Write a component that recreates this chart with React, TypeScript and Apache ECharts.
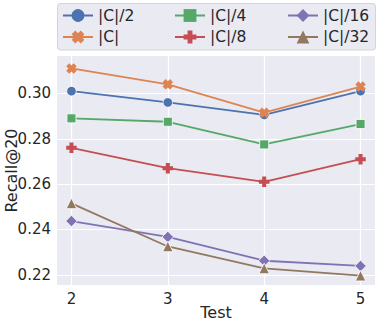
import React, { useEffect, useRef } from 'react';
import * as echarts from 'echarts';

const tests = [2, 3, 4, 5];
const seriesNames = ['|C|/2', '|C|', '|C|/4', '|C|/8', '|C|/16', '|C|/32'];
const valuesC2 = [0.301, 0.296, 0.2905, 0.301];
const valuesC = [0.311, 0.304, 0.2915, 0.303];
const valuesC4 = [0.289, 0.2875, 0.2775, 0.2865];
const valuesC8 = [0.276, 0.267, 0.261, 0.271];
const valuesC16 = [0.2437, 0.2367, 0.2262, 0.2239];
const valuesC32 = [0.2515, 0.2325, 0.2228, 0.2196];
const allValues = [valuesC2, valuesC, valuesC4, valuesC8, valuesC16, valuesC32];
const yTickStep = 0.02;
const xTickStep = 1;

const colors = ['#4C72B0', '#DD8452', '#55A868', '#C44E52', '#8172B3', '#937860'];
const X_PATH = 'path://M0,2.9 L2.9,0 L5,2.1 L7.1,0 L10,2.9 L7.9,5 L10,7.1 L7.1,10 L5,7.9 L2.9,10 L0,7.1 L2.1,5 Z';
const PLUS_PATH = 'path://M3.1,0 L6.9,0 L6.9,3.1 L10,3.1 L10,6.9 L6.9,6.9 L6.9,10 L3.1,10 L3.1,6.9 L0,6.9 L0,3.1 L3.1,3.1 Z';
const symbols = ['circle', X_PATH, 'rect', PLUS_PATH, 'diamond', 'triangle'];
const symbolSizes = [9.5, 10.5, 9, 10.5, 11.5, 10.5];

const FONT = 'DejaVu Sans';
const TEXT = '#262626';

export default function App() {
  const ref = useRef<HTMLDivElement>(null);
  useEffect(() => {
    if (!ref.current) return;
    const chart = echarts.init(ref.current, undefined, { renderer: 'svg' });
    const legendCommon = {
      orient: 'vertical',
      top: 7.5,
      padding: 0,
      itemWidth: 30,
      itemHeight: 16,
      itemGap: 5.5,
      textStyle: { fontFamily: FONT, fontSize: 15.5, color: TEXT, lineHeight: 16 },
      itemStyle: { borderWidth: 0 },
      selectedMode: false,
    };
    chart.setOption({
      animation: false,
      textStyle: { fontFamily: FONT },
      graphic: [
        {
          type: 'rect',
          z: 1,
          shape: { x: 57.5, y: 3.5, width: 318, height: 46.5, r: 3 },
          style: { fill: '#EAEAF2', stroke: '#D4D4D8', lineWidth: 1 },
        },
      ],
      legend: [
        { ...legendCommon, left: 62, data: [seriesNames[0], seriesNames[1]] },
        { ...legendCommon, left: 174, data: [seriesNames[2], seriesNames[3]] },
        { ...legendCommon, left: 287, data: [seriesNames[4], seriesNames[5]] },
      ],
      grid: {
        left: 57,
        right: 7,
        top: 56,
        bottom: 41,
        containLabel: false,
        outerBoundsMode: 'none',
        show: true,
        backgroundColor: '#EAEAF2',
        borderWidth: 0,
      },
      xAxis: {
        type: 'value',
        min: 1.85,
        max: 5.15,
        minInterval: xTickStep,
        maxInterval: xTickStep,
        name: 'Test',
        nameLocation: 'middle',
        nameMoveOverlap: false,
        nameGap: 19,
        nameTextStyle: { fontFamily: FONT, fontSize: 16, color: TEXT },
        axisLine: { show: false },
        axisTick: { show: false },
        axisLabel: {
          showMinLabel: false,
          showMaxLabel: false,
          margin: 6,
          fontFamily: FONT,
          fontSize: 15,
          color: TEXT,
          formatter: (v: number) => String(v),
        },
        splitLine: { show: true, showMinLine: false, showMaxLine: false, lineStyle: { color: '#FFFFFF', width: 1.2 } },
      },
      yAxis: {
        type: 'value',
        min: 0.2155,
        max: 0.3165,
        minInterval: yTickStep,
        maxInterval: yTickStep,
        name: 'Recall@20',
        nameLocation: 'middle',
        nameMoveOverlap: false,
        nameGap: 38,
        nameTextStyle: { fontFamily: FONT, fontSize: 16, color: TEXT },
        axisLine: { show: false },
        axisTick: { show: false },
        axisLabel: {
          showMinLabel: false,
          showMaxLabel: false,
          margin: 6,
          fontFamily: FONT,
          fontSize: 15,
          color: TEXT,
          formatter: (v: number) => v.toFixed(2),
        },
        splitLine: { show: true, showMinLine: false, showMaxLine: false, lineStyle: { color: '#FFFFFF', width: 1.2 } },
      },
      series: seriesNames.map((name, i) => ({
        name,
        type: 'line',
        data: tests.map((t, j) => [t, allValues[i][j]]),
        symbol: symbols[i],
        symbolSize: symbolSizes[i],
        showSymbol: true,
        color: colors[i],
        lineStyle: { color: colors[i], width: 1.8 },
        itemStyle: { color: colors[i], borderColor: '#FFFFFF', borderWidth: i === 1 || i === 3 ? 0 : 0.8 },
        emphasis: { disabled: true },
        z: 2 + i,
      })),
    });
    return () => chart.dispose();
  }, []);
  return <div ref={ref} style={{ width: 382, height: 326, position: 'absolute', left: 0, top: 0 }} />;
}
